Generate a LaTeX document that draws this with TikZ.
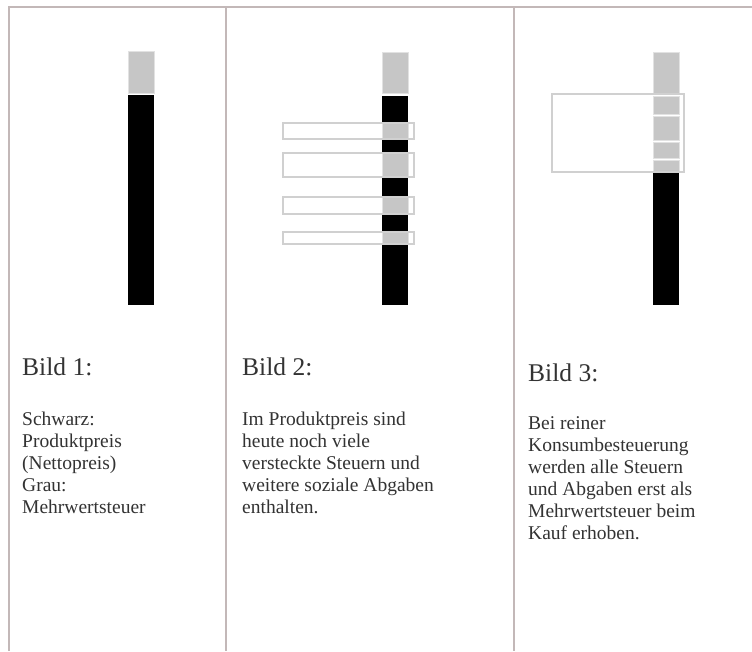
\documentclass[tikz,border=0pt]{standalone}
\usepackage{fontspec}
\setmainfont{Liberation Serif}
\definecolor{rulec}{HTML}{C3B8B8}
\definecolor{barg}{HTML}{C6C6C6}
\definecolor{barline}{HTML}{E2E2E2}
\definecolor{txt}{HTML}{333333}
\definecolor{boxline}{HTML}{D0D0D0}
\tikzset{
  rulel/.style={draw=rulec,line width=2pt},
  graybar/.style={fill=barg,draw=barline,line width=0.8pt},
  blackbar/.style={fill=black,draw=none},
  taxbox/.style={draw=boxline,line width=1.6pt},
  titletxt/.style={anchor=base west,inner sep=0pt,text=txt,font=\fontsize{25.5}{29}\selectfont},
  bodytxt/.style={anchor=base west,inner sep=0pt,text=txt,font=\fontsize{19.5}{22}\selectfont}
}
\begin{document}
\begin{tikzpicture}[x=1pt,y=-1pt]
\useasboundingbox (0,0) rectangle (752,651);
\fill[white] (0,0) rectangle (752,651);
% frame
\draw[rulel] (9,651) -- (9,7) -- (752,7);
\draw[rulel] (226,7) -- (226,651);
\draw[rulel] (514,7) -- (514,651);
% bar 1
\fill[blackbar] (128,95) rectangle (154,305);
\draw[graybar] (128,51) rectangle (154,93);
% bar 2
\fill[blackbar] (382,96) rectangle (408,305);
\draw[graybar] (382,52) rectangle (408,93);
\draw[graybar] (382,123) rectangle (408,139);
\draw[graybar] (382,153) rectangle (408,177);
\draw[graybar] (382,197) rectangle (408,214);
\draw[graybar] (382,232) rectangle (408,244);
\draw[taxbox] (283,123) rectangle (414,139);
\draw[taxbox] (283,153) rectangle (414,177);
\draw[taxbox] (283,197) rectangle (414,214);
\draw[taxbox] (283,232) rectangle (414,244);
% bar 3
\fill[blackbar] (653,172) rectangle (679,305);
\draw[graybar] (653,52) rectangle (679,94);
\draw[graybar] (653,96) rectangle (679,114);
\draw[graybar] (653,116) rectangle (679,140);
\draw[graybar] (653,142) rectangle (679,158);
\draw[graybar] (653,160) rectangle (679,171);
\draw[taxbox] (552,94) rectangle (684,172);
% texts
\node[titletxt] (t1) at (22,375) {Bild 1:};
\node[titletxt] (t2) at (242,375) {Bild 2:};
\node[titletxt] (t3) at (528,381) {Bild 3:};
\foreach \s [count=\i] in {Schwarz:,Produktpreis,(Nettopreis),Grau:,Mehrwertsteuer}
  \node[bodytxt] (a\i) at (22,{425+22*(\i-1)}) {\s};
\foreach \s [count=\i] in {Im Produktpreis sind,heute noch viele,versteckte Steuern und,weitere soziale Abgaben,enthalten.}
  \node[bodytxt] (b\i) at (242,{425+22*(\i-1)}) {\s};
\foreach \s [count=\i] in {Bei reiner,Konsumbesteuerung,werden alle Steuern,und Abgaben erst als,Mehrwertsteuer beim,Kauf erhoben.}
  \node[bodytxt] (c\i) at (528,{429+22*(\i-1)}) {\s};
\end{tikzpicture}
\end{document}
